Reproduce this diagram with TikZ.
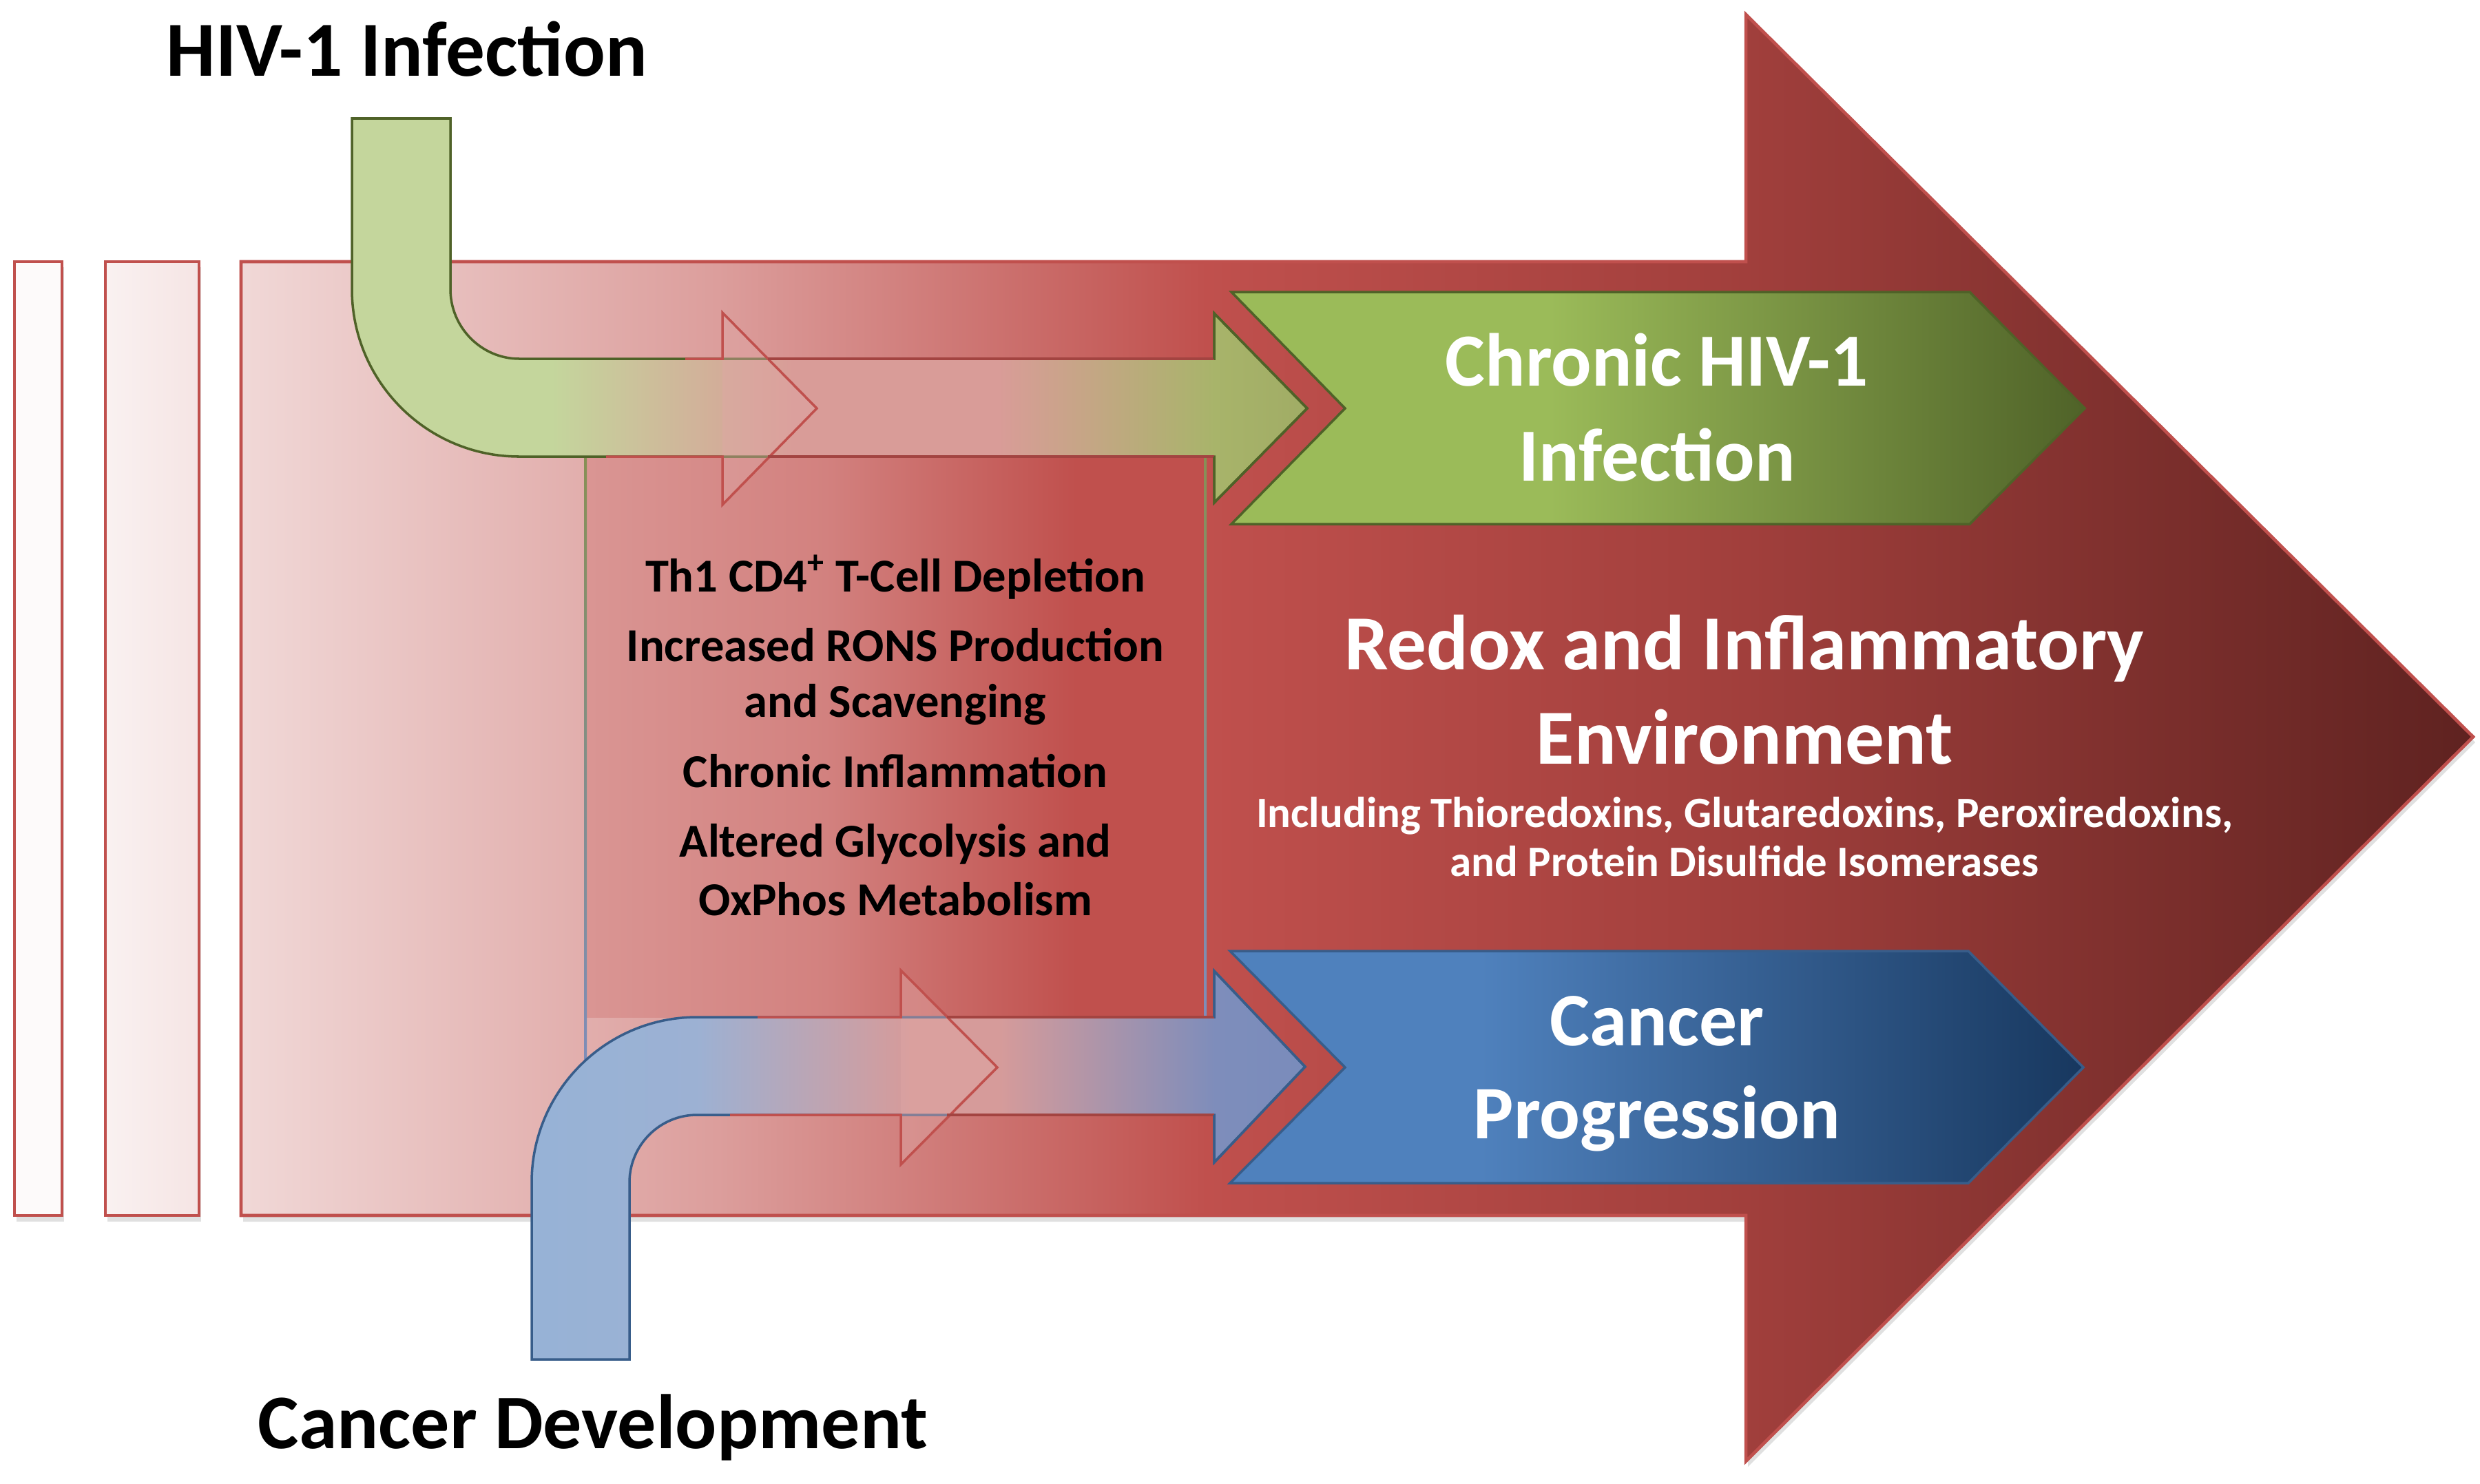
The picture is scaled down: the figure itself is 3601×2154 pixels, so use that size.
\documentclass[tikz,border=0pt]{standalone}
\usepackage{fontspec}
\setmainfont{Carlito}
\definecolor{bgA}{HTML}{F2DCDB}
\definecolor{bgB}{HTML}{C0504D}
\definecolor{bgC}{HTML}{A13F3C}
\definecolor{bgD}{HTML}{5E2220}
\definecolor{redline}{HTML}{C0504D}
\definecolor{gLight}{HTML}{C4D69C}
\definecolor{gPink}{HTML}{D99C98}
\definecolor{gOlive}{HTML}{A8B46A}
\definecolor{gDark}{HTML}{4F6228}
\definecolor{chG1}{HTML}{9BBB59}
\definecolor{chG2}{HTML}{4F6228}
\definecolor{bLight}{HTML}{95B3D7}
\definecolor{bLav}{HTML}{B9A9C4}
\definecolor{bPink}{HTML}{D69B9A}
\definecolor{bMid}{HTML}{7E8DBB}
\definecolor{bDark}{HTML}{385D8A}
\definecolor{chB1}{HTML}{4F81BD}
\definecolor{chB2}{HTML}{17375E}
\definecolor{boxA}{HTML}{DA9694}
\definecolor{pinkov}{HTML}{DFA7A5}
\newcommand{\hseg}[4]{\shade[left color=#3,right color=#4] (#1,-20) rectangle ({#2+2},2200);}
\tikzset{
  rededge/.style={draw=redline, line width=1.3pt, line join=miter},
  gedge/.style={draw=gDark, line width=1pt, line join=miter},
  bedge/.style={draw=bDark, line width=1pt, line join=miter},
  blacktxt/.style={font=\bfseries, text=black, inner sep=0pt},
  whitetxt/.style={font=\bfseries, text=white, inner sep=0pt},
}
\begin{document}
\begin{tikzpicture}[x=0.01cm,y=-0.01cm]
\useasboundingbox (0,0) rectangle (3601,2154);
\fill[white] (0,0) rectangle (3601,2154);

% shadows
\fill[black, opacity=0.12] (24,388) rectangle (93,1774);
\fill[black, opacity=0.12] (156,388) rectangle (292,1774);
\fill[black, opacity=0.12] (353,388) -- (2538,388) -- (2538,29) -- (3594,1078) -- (2538,2130) -- (2538,1774) -- (353,1774) -- cycle;

% left strips
\fill[white!85!bgA] (21,380) rectangle (90,1765);
\draw[rededge] (21,380) rectangle (90,1765);
\shade[left color=white!60!bgA, right color=white!25!bgA] (153,380) rectangle (289,1765);
\draw[rededge] (153,380) rectangle (289,1765);

% big arrow
\begin{scope}
\clip (350,380) -- (2535,380) -- (2535,21) -- (3591,1070) -- (2535,2122) -- (2535,1765) -- (350,1765) -- cycle;
\hseg{300}{1050}{bgA}{bgA!55!bgB}
\hseg{1050}{1750}{bgA!55!bgB}{bgB}
\hseg{1750}{2535}{bgB}{bgC}
\hseg{2535}{3600}{bgC}{bgD}
\end{scope}
\draw[rededge] (350,380) -- (2535,380) -- (2535,21) -- (3591,1070) -- (2535,2122) -- (2535,1765) -- (350,1765) -- cycle;

% inner box
\begin{scope}
\clip (850,663) rectangle (1751,1477);
\hseg{840}{1200}{boxA}{boxA!70!bgB}
\hseg{1200}{1560}{boxA!70!bgB}{bgB}
\hseg{1560}{1760}{bgB}{bgB}
\end{scope}
\shade[top color=gOlive!80!black, middle color=bgB!80!black, bottom color=bMid] (848,663) rectangle (852,1560);
\shade[top color=gOlive!80!black, middle color=bgB!80!black, bottom color=bMid] (1748,663) rectangle (1752,1477);

% green bent arrow
\begin{scope}
\clip (511,172) -- (654,172) -- (654,420) .. controls (654,475.2) and (698.8,521) .. (754,521) -- (1763,521) -- (1763,455) -- (1898,593) -- (1763,730) -- (1763,663) -- (754,663) .. controls (619.8,663) and (511,554.2) .. (511,420) -- cycle;
\hseg{400}{800}{gLight}{gLight}
\hseg{800}{1150}{gLight}{gPink}
\hseg{1150}{1450}{gPink}{gPink}
\hseg{1450}{1763}{gPink}{gOlive}
\hseg{1763}{1910}{gOlive}{gOlive!95!black}
\end{scope}
\draw[gedge] (511,172) -- (654,172) -- (654,420) .. controls (654,475.2) and (698.8,521) .. (754,521) -- (1763,521) -- (1763,455) -- (1898,593) -- (1763,730) -- (1763,663) -- (754,663) .. controls (619.8,663) and (511,554.2) .. (511,420) -- cycle;

% pink overlay arrow 1
\fill[pinkov, opacity=0.45] (1049,454) -- (1186,593) -- (1049,733) -- cycle;
\draw[rededge, line width=1pt] (995,521) -- (1049,521) -- (1049,454) -- (1186,593) -- (1049,733) -- (1049,663) -- (880,663);
\draw[draw=redline!85!black, line width=1pt] (1115,521) -- (1763,521);
\draw[draw=redline!85!black, line width=1pt] (1115,663) -- (1763,663);
\draw[gedge] (1763,521) -- (1763,455) -- (1898,593) -- (1763,730) -- (1763,663);

% blue bent arrow
\begin{scope}
\clip (772,1974) -- (914,1974) -- (914,1717) .. controls (914,1663) and (958,1619) .. (1012,1619) -- (1763,1619) -- (1763,1688) -- (1895,1549) -- (1763,1410) -- (1763,1477) -- (1012,1477) .. controls (879.5,1477) and (772,1584.5) .. (772,1717) -- cycle;
\hseg{700}{1012}{bLight}{bLight!80!bLav}
\hseg{1012}{1320}{bLight!80!bLav}{bPink}
\hseg{1320}{1450}{bPink}{bPink}
\hseg{1450}{1763}{bPink}{bMid}
\hseg{1763}{1910}{bMid}{bMid!90!chB1}
\end{scope}
\draw[bedge] (772,1974) -- (914,1974) -- (914,1717) .. controls (914,1663) and (958,1619) .. (1012,1619) -- (1763,1619) -- (1763,1688) -- (1895,1549) -- (1763,1410) -- (1763,1477) -- (1012,1477) .. controls (879.5,1477) and (772,1584.5) .. (772,1717) -- cycle;

% pink overlay arrow 3
\fill[pinkov, opacity=0.45] (1308,1409) -- (1448,1550) -- (1308,1691) -- cycle;
\draw[rededge, line width=1pt] (1100,1477) -- (1308,1477) -- (1308,1409) -- (1448,1550) -- (1308,1691) -- (1308,1619) -- (1060,1619);
\draw[draw=redline!85!black, line width=1pt] (1375,1477) -- (1763,1477);
\draw[draw=redline!85!black, line width=1pt] (1375,1619) -- (1763,1619);
\draw[bedge] (1763,1477) -- (1763,1410) -- (1895,1549) -- (1763,1688) -- (1763,1619);

% green chevron
\begin{scope}
\clip (1788,424) -- (2860,424) -- (3027,593) -- (2860,761) -- (1788,761) -- (1953,593) -- cycle;
\hseg{1780}{2250}{chG1}{chG1}
\hseg{2250}{3030}{chG1}{chG2}
\end{scope}
\draw[gedge] (1788,424) -- (2860,424) -- (3027,593) -- (2860,761) -- (1788,761) -- (1953,593) -- cycle;

% blue chevron
\begin{scope}
\clip (1786,1381) -- (2858,1381) -- (3025,1550) -- (2858,1718) -- (1786,1718) -- (1953,1550) -- cycle;
\hseg{1780}{2150}{chB1}{chB1}
\hseg{2150}{3030}{chB1}{chB2}
\end{scope}
\draw[bedge] (1786,1381) -- (2858,1381) -- (3025,1550) -- (2858,1718) -- (1786,1718) -- (1953,1550) -- cycle;

% texts
\node[blacktxt, anchor=base west, font=\bfseries\fontsize{32.2}{40}\selectfont] (hiv) at (241,110) {HIV-1 Infection};
\node[blacktxt, anchor=base west, font=\bfseries\fontsize{31.9}{38}\selectfont] (cdev) at (374,2103) {Cancer Development};

\node[whitetxt, anchor=base, font=\bfseries\fontsize{31}{36}\selectfont] (chr1) at (2406,560) {Chronic HIV-1};
\node[whitetxt, anchor=base, font=\bfseries\fontsize{31}{36}\selectfont] (chr2) at (2406,698) {Infection};
\node[whitetxt, anchor=base, font=\bfseries\fontsize{31.2}{36}\selectfont] (cp1) at (2406,1518) {Cancer};
\node[whitetxt, anchor=base, font=\bfseries\fontsize{31.2}{36}\selectfont] (cp2) at (2406,1653) {Progression};

\node[whitetxt, anchor=base, font=\bfseries\fontsize{32.2}{37}\selectfont] (rx1) at (2533,972) {Redox and Inflammatory};
\node[whitetxt, anchor=base, font=\bfseries\fontsize{32.2}{37}\selectfont] (rx2) at (2533,1109) {Environment};
\node[whitetxt, anchor=base, font=\bfseries\fontsize{17.9}{20}\selectfont] (inc1) at (2533,1201) {Including Thioredoxins, Glutaredoxins, Peroxiredoxins,};
\node[whitetxt, anchor=base, font=\bfseries\fontsize{17.9}{20}\selectfont] (inc2) at (2533,1272) {and Protein Disulfide Isomerases};

\node[blacktxt, anchor=base, font=\bfseries\fontsize{19.5}{22}\selectfont] (b1) at (1300,859) {Th1 CD4\textsuperscript{+} T-Cell Depletion};
\node[blacktxt, anchor=base, font=\bfseries\fontsize{19.5}{22}\selectfont] (b2) at (1300,960) {Increased RONS Production};
\node[blacktxt, anchor=base, font=\bfseries\fontsize{19.5}{22}\selectfont] (b3) at (1300,1041) {and Scavenging};
\node[blacktxt, anchor=base, font=\bfseries\fontsize{19.5}{22}\selectfont] (b4) at (1300,1143) {Chronic Inflammation};
\node[blacktxt, anchor=base, font=\bfseries\fontsize{19.5}{22}\selectfont] (b5) at (1300,1244) {Altered Glycolysis and};
\node[blacktxt, anchor=base, font=\bfseries\fontsize{19.5}{22}\selectfont] (b6) at (1300,1329) {OxPhos Metabolism};
\end{tikzpicture}
\end{document}
